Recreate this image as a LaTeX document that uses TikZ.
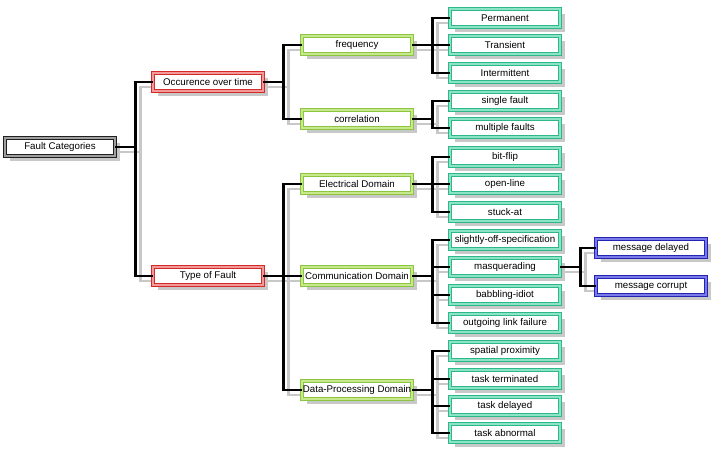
\documentclass[tikz,border=0pt]{standalone}
\usepackage{fontspec}
\setmainfont{Liberation Sans}
\usetikzlibrary{shadows,backgrounds}
\definecolor{rdk}{HTML}{D42A2A}\definecolor{rlt}{HTML}{F29A9A}
\definecolor{gdk}{HTML}{8CC63F}\definecolor{glt}{HTML}{C8E890}
\definecolor{tdk}{HTML}{2DB88A}\definecolor{tlt}{HTML}{8DE4C4}
\definecolor{bdk}{HTML}{2424B4}\definecolor{blt}{HTML}{7A7AE8}
\definecolor{kdk}{HTML}{202020}\definecolor{klt}{HTML}{A0A0A0}
\definecolor{shd}{HTML}{C8C8C8}
\tikzset{
  box/.style={rectangle, fill=white, minimum width=82.5pt, minimum height=13.5pt,
    inner sep=0pt, font=\fontsize{7.3pt}{8pt}\selectfont, line width=0.7pt,
    double distance=0.9pt,
    drop shadow={shadow xshift=3.5pt, shadow yshift=-3.5pt, fill=shd, opacity=1}},
  rbox/.style={box, draw=rdk, double=rlt},
  gbox/.style={box, draw=gdk, double=glt},
  tbox/.style={box, draw=tdk, double=tlt},
  bbox/.style={box, draw=bdk, double=blt},
  kbox/.style={box, draw=kdk, double=klt},
  conn/.style={line width=1.7pt, black},
  connshadow/.style={line width=1.7pt, draw=shd},
}
\begin{document}
\begin{tikzpicture}[x=0.75pt,y=-0.75pt]
\useasboundingbox (0,0) rectangle (720,455);
% nodes
\node[kbox] (fc) at (60,147) {Fault Categories};
\node[rbox] (oot) at (208,82) {Occurence over time};
\node[rbox] (tof) at (208,276) {Type of Fault};
\node[gbox] (freq) at (357,45) {frequency};
\node[gbox] (corr) at (357,119) {correlation};
\node[gbox] (ed) at (357,184) {Electrical Domain};
\node[gbox] (cd) at (357,276) {Communication Domain};
\node[gbox] (dpd) at (357,390) {Data-Processing Domain};
\node[tbox] (perm) at (505,18) {Permanent};
\node[tbox] (trans) at (505,45) {Transient};
\node[tbox] (inter) at (505,73) {Intermittent};
\node[tbox] (single) at (505,101) {single fault};
\node[tbox] (multi) at (505,128) {multiple faults};
\node[tbox] (bit) at (505,157) {bit-flip};
\node[tbox] (open) at (505,184) {open-line};
\node[tbox] (stuck) at (505,212) {stuck-at};
\node[tbox] (slight) at (505,240) {slightly-off-specification};
\node[tbox] (masq) at (505,267) {masquerading};
\node[tbox] (babb) at (505,295) {babbling-idiot};
\node[tbox] (outg) at (505,323) {outgoing link failure};
\node[tbox] (spat) at (505,351) {spatial proximity};
\node[tbox] (term) at (505,379) {task terminated};
\node[tbox] (tdel) at (505,406) {task delayed};
\node[tbox] (tabn) at (505,433) {task abnormal};
\node[bbox] (mdel) at (651,248) {message delayed};
\node[bbox] (mcor) at (651,286) {message corrupt};
% connector shadows
\begin{scope}[on background layer]
\foreach \p/\c in {fc/oot,fc/tof,oot/freq,oot/corr,tof/ed,tof/cd,tof/dpd,
  freq/perm,freq/trans,freq/inter,corr/single,corr/multi,
  ed/bit,ed/open,ed/stuck,cd/slight,cd/masq,cd/babb,cd/outg,
  dpd/spat,dpd/term,dpd/tdel,dpd/tabn,masq/mdel,masq/mcor}{
  \draw[connshadow] ([xshift=3.75pt,yshift=-3.75pt]\p.east) -- ++(20,0) |- ([xshift=3.75pt,yshift=-3.75pt]\c.west);
}
\end{scope}
% connectors
\foreach \p/\c in {fc/oot,fc/tof,oot/freq,oot/corr,tof/ed,tof/cd,tof/dpd,
  freq/perm,freq/trans,freq/inter,corr/single,corr/multi,
  ed/bit,ed/open,ed/stuck,cd/slight,cd/masq,cd/babb,cd/outg,
  dpd/spat,dpd/term,dpd/tdel,dpd/tabn,masq/mdel,masq/mcor}{
  \draw[conn] (\p.east) -- ++(20,0) |- (\c.west);
}
\end{tikzpicture}
\end{document}
